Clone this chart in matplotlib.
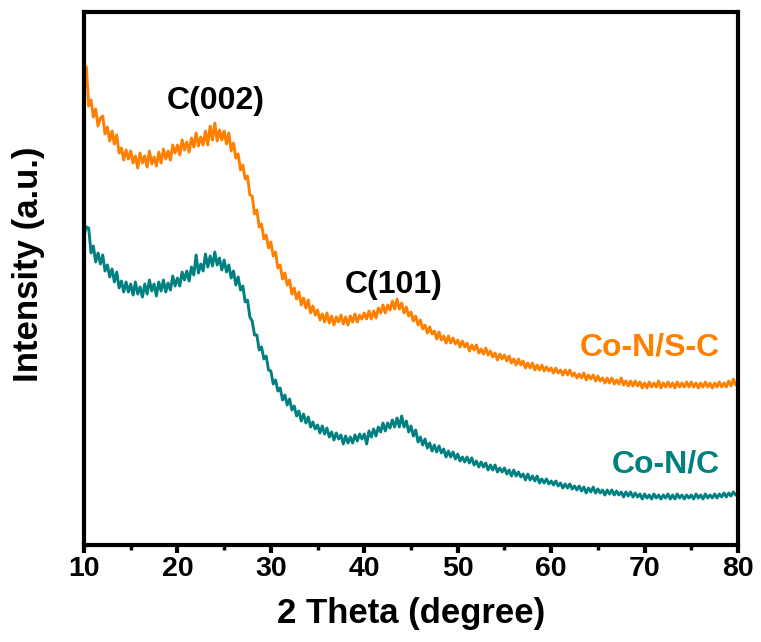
import numpy as np
import matplotlib
matplotlib.use('Agg')
import matplotlib.pyplot as plt
from matplotlib.ticker import MultipleLocator

plt.rcParams['font.family'] = ['Liberation Sans', 'DejaVu Sans']
plt.rcParams['font.weight'] = 'bold'

# 2 theta scan grid, 0.25 degree step from 10 to 80
two_theta = np.arange(10, 80.001, 0.25)

# Co-N/S-C intensity (a.u., offset already applied), one row = 5 degrees
co_ns_c = [
    450, 478, 439, 445, 428, 436, 419, 427, 429, 411, 418, 404, 414, 401, 410, 392, 397, 385, 395, 386,
    394, 382, 389, 377, 392, 382, 389, 378, 394, 381, 388, 379, 393, 382, 396, 386, 394, 385, 400, 392,
    400, 390, 405, 395, 403, 393, 407, 398, 412, 399, 408, 400, 414, 400, 419, 405, 422, 404, 415, 405,
    414, 401, 412, 394, 402, 387, 391, 375, 380, 366, 369, 350, 349, 331, 335, 318, 321, 306, 310, 297,
    303, 289, 293, 277, 280, 266, 272, 260, 265, 251, 257, 246, 253, 240, 247, 237, 245, 232, 239, 230,
    235, 225, 231, 223, 232, 222, 229, 220, 228, 223, 230, 221, 228, 220, 229, 223, 231, 223, 230, 226,
    232, 226, 234, 226, 234, 227, 237, 232, 240, 232, 240, 235, 244, 236, 246, 236, 242, 232, 238, 229,
    233, 224, 229, 220, 225, 216, 220, 212, 218, 211, 214, 206, 213, 205, 209, 202, 209, 202, 207, 201,
    205, 198, 204, 198, 202, 194, 200, 195, 200, 192, 196, 191, 197, 190, 194, 188, 192, 185, 191, 186,
    190, 184, 189, 182, 186, 180, 186, 180, 184, 177, 182, 177, 182, 175, 180, 175, 180, 174, 178, 174,
    177, 172, 177, 172, 175, 170, 175, 170, 175, 169, 172, 167, 171, 167, 172, 165, 170, 166, 170, 164,
    169, 164, 167, 162, 167, 162, 167, 161, 165, 161, 167, 160, 164, 159, 164, 159, 164, 159, 163, 157,
    162, 157, 163, 158, 162, 158, 164, 157, 162, 158, 163, 158, 162, 157, 163, 158, 162, 158, 163, 158,
    163, 158, 162, 157, 162, 158, 163, 158, 162, 157, 162, 158, 163, 158, 162, 158, 164, 159, 166, 160,
    163,
]

# Co-N/C intensity (a.u.)
co_n_c = [
    310, 318, 317, 292, 299, 283, 292, 281, 290, 274, 280, 268, 276, 263, 273, 257, 264, 253, 263, 253,
    261, 250, 263, 251, 258, 248, 261, 251, 265, 254, 261, 249, 263, 254, 265, 253, 262, 255, 269, 259,
    267, 259, 273, 265, 274, 264, 278, 270, 290, 272, 281, 274, 291, 278, 289, 279, 293, 280, 287, 275,
    285, 273, 280, 267, 274, 260, 268, 255, 259, 243, 245, 228, 224, 210, 210, 195, 198, 186, 189, 175,
    174, 161, 165, 154, 157, 145, 150, 140, 146, 135, 139, 129, 134, 124, 131, 122, 128, 118, 123, 116,
    120, 112, 119, 111, 117, 108, 113, 105, 112, 106, 110, 101, 109, 102, 108, 102, 110, 104, 111, 106,
    111, 101, 114, 108, 116, 109, 118, 113, 122, 114, 122, 117, 125, 118, 127, 118, 129, 118, 124, 113,
    119, 109, 115, 103, 108, 100, 106, 97, 102, 94, 100, 93, 99, 92, 96, 88, 94, 88, 93, 86,
    91, 84, 88, 83, 88, 82, 87, 80, 84, 78, 83, 78, 82, 75, 80, 75, 80, 73, 77, 73,
    77, 71, 75, 69, 75, 69, 73, 68, 71, 65, 71, 65, 69, 64, 69, 62, 66, 62, 66, 61,
    64, 60, 64, 59, 62, 57, 61, 57, 61, 56, 59, 55, 59, 54, 58, 52, 57, 53, 58, 52,
    56, 52, 55, 50, 55, 51, 55, 50, 54, 50, 53, 48, 53, 49, 53, 48, 52, 48, 51, 46,
    51, 47, 50, 46, 51, 47, 50, 46, 50, 47, 51, 46, 50, 46, 51, 47, 50, 46, 50, 47,
    50, 46, 51, 47, 50, 46, 51, 47, 50, 47, 51, 47, 51, 48, 52, 48, 52, 49, 53, 50,
    52,
]

sample_names = ['Co-N/S-C', 'Co-N/C']
sample_colors = ['#FF8000', '#008080']
peak_labels = ['C(002)', 'C(101)']
peak_pos = [(24.1, 444), (43.1, 260)]
name_pos = [(78.1, 197), (78.1, 80)]

fig = plt.figure(figsize=(7.61, 6.42), dpi=100)
ax = fig.add_axes([0.1104, 0.1511, 0.8594, 0.8302])

ax.plot(two_theta, co_ns_c, color=sample_colors[0], lw=2.1)
ax.plot(two_theta, co_n_c, color=sample_colors[1], lw=2.1)

for lab, (px, py) in zip(peak_labels, peak_pos):
    ax.text(px, py, lab, fontsize=23, fontweight='bold', ha='center', va='center')
for name, col, (px, py) in zip(sample_names, sample_colors, name_pos):
    ax.text(px, py, name, fontsize=23, fontweight='bold', color=col, ha='right', va='center')

ax.set_xlim(10, 80)
ax.set_ylim(0, 533)
ax.xaxis.set_major_locator(MultipleLocator(10))
ax.xaxis.set_minor_locator(MultipleLocator(5))
ax.set_yticks([])
ax.tick_params(axis='x', which='major', direction='out', length=6, width=3, labelsize=20.5, pad=2)
ax.tick_params(axis='x', which='minor', direction='out', length=3.5, width=2.5)
for lbl in ax.get_xticklabels():
    lbl.set_fontweight('bold')
for sp in ax.spines.values():
    sp.set_linewidth(3)

ax.set_xlabel('2 Theta (degree)', fontsize=25, fontweight='bold')
ax.set_ylabel('Intensity (a.u.)', fontsize=25, fontweight='bold')
ax.xaxis.set_label_coords(0.5, -0.098)
ax.yaxis.set_label_coords(-0.06, 0.527)

plt.savefig('out.png', dpi=100)
